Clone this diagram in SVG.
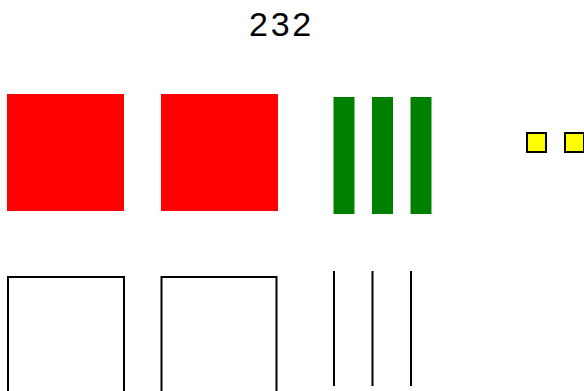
<svg xmlns="http://www.w3.org/2000/svg" width="584" height="391" viewBox="0 0 584 391">
<style>
.title{font-family:"Liberation Sans",Arial,sans-serif;font-size:34px;letter-spacing:2.8px;fill:#000;text-anchor:middle}
.red{fill:#ff0000}
.green{fill:#008000}
.yellow{fill:#ffff00;stroke:#000;stroke-width:2}
.outline{fill:none;stroke:#000;stroke-width:2}
.line{stroke:#000;stroke-width:2}
</style>
<rect width="584" height="391" fill="#fff"/>
<text class="title" x="281.5" y="36">232</text>
<g id="red1"><rect class="red" x="7" y="94" width="117" height="117"/></g>
<g id="red2"><rect class="red" x="161" y="94" width="117" height="117"/></g>
<g id="green1"><rect class="green" x="333.5" y="97" width="21" height="117"/></g>
<g id="green2"><rect class="green" x="372" y="97" width="21" height="117"/></g>
<g id="green3"><rect class="green" x="410.5" y="97" width="21" height="117"/></g>
<g id="yellow1"><rect class="yellow" x="527" y="133" width="19" height="19"/></g>
<g id="yellow2"><rect class="yellow" x="565" y="133" width="19" height="19"/></g>
<g id="box1"><rect class="outline" x="8" y="277" width="116" height="130"/></g>
<g id="box2"><rect class="outline" x="161.5" y="277" width="115" height="130"/></g>
<g id="connectors">
<line class="line" x1="334" y1="271" x2="334" y2="386"/>
<line class="line" x1="372.5" y1="271" x2="372.5" y2="386"/>
<line class="line" x1="411" y1="271" x2="411" y2="386"/>
</g>
</svg>
